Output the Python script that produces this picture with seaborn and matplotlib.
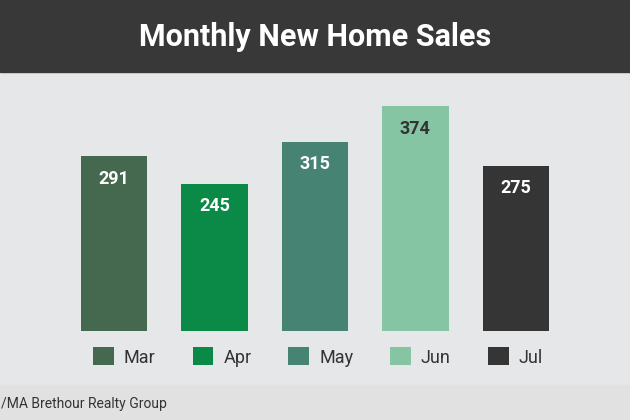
import matplotlib
matplotlib.use('Agg')
import pandas as pd
import seaborn as sns
import matplotlib.pyplot as plt
from matplotlib.patches import Rectangle, Patch

# dados
months = ['Mar', 'Apr', 'May', 'Jun', 'Jul']
sales = [291, 245, 315, 374, 275]
colors = ['#44694f', '#0b8a47', '#468373', '#86c5a4', '#353535']
label_colors = ['white', 'white', 'white', '#333333', 'white']

df = pd.DataFrame({'month': months, 'sales': sales})

sns.set_style('white')
# fonte estreita, se existir
plt.rcParams['font.family'] = ['Liberation Sans Narrow', 'DejaVu Sans Condensed', 'Roboto', 'DejaVu Sans']

fig = plt.figure(figsize=(6.3, 4.2), dpi=100)
fig.patch.set_facecolor('#e6e7e8')

# faixa escura do titulo e rodape
fig.patches.append(Rectangle((0, 1 - 72/420), 1, 72/420, transform=fig.transFigure,
                             color='#383838', zorder=0))
fig.patches.append(Rectangle((0, 0), 1, 35/420, transform=fig.transFigure,
                             color='#e1e1e1', zorder=0))
fig.text(0.5, 1 - 37/420, 'Monthly New Home Sales', ha='center', va='center',
         color='white', fontsize=22, fontweight='bold')
fig.text(0.002, 16/420, '/MA Brethour Realty Group', ha='left', va='center',
         color='#333333', fontsize=10)

ax = fig.add_axes([64/630, 89/420, 502/630, 240.6/420])
ax.set_facecolor('none')
sns.barplot(data=df, x='month', y='sales', hue='month', palette=colors,
            width=0.66, legend=False, saturation=1, linewidth=0, ax=ax)
ax.set_xlim(-0.5, 4.5)
ax.set_ylim(0, 400)
ax.axis('off')

for i, v in enumerate(sales):
    ax.text(i, v - 38, str(v), ha='center', va='center', color=label_colors[i],
            fontsize=13, fontweight='bold')

handles = [Patch(facecolor=c, edgecolor='none', label=m) for m, c in zip(months, colors)]
fig.legend(handles=handles, loc='center', bbox_to_anchor=(318/630, 1 - 357/420),
           ncol=5, frameon=False, fontsize=13, handlelength=1.15, handleheight=1.15,
           handletextpad=0.55, columnspacing=2.05, labelcolor='#333333')

fig.savefig('out.png', dpi=100, facecolor=fig.get_facecolor())
